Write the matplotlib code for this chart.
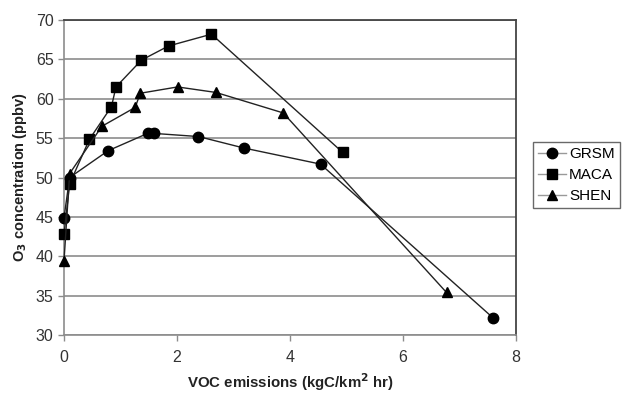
import matplotlib
matplotlib.use("Agg")
import matplotlib.pyplot as plt

plt.rcParams['font.family'] = ['Liberation Sans', 'DejaVu Sans']

# VOC emissions (kgC/km^2 hr) and O3 concentration (ppbv) per site
grsm_x = [0.0, 0.1, 0.78, 1.48, 1.59, 2.38, 3.18, 4.54, 7.59]
grsm_y = [44.9, 50.0, 53.4, 55.6, 55.6, 55.2, 53.75, 51.7, 32.2]

maca_x = [0.0, 0.1, 0.45, 0.84, 0.92, 1.37, 1.85, 2.61, 4.93]
maca_y = [42.8, 49.2, 54.85, 59.0, 61.5, 64.9, 66.7, 68.2, 53.2]

shen_x = [0.0, 0.1, 0.67, 1.26, 1.35, 2.01, 2.69, 3.88, 6.77]
shen_y = [39.4, 50.5, 56.5, 58.9, 60.7, 61.5, 60.8, 58.2, 35.4]

series_names = ["GRSM", "MACA", "SHEN"]
x_ticks = [0, 2, 4, 6, 8]
y_ticks = [30, 35, 40, 45, 50, 55, 60, 65, 70]

fig = plt.figure(figsize=(6.22, 3.95), dpi=100)
ax = fig.add_axes([64/622, 1-335/395, (516-64)/622, (335-20)/395])

ax.set_xlim(0, 8)
ax.set_ylim(30, 70)
ax.set_xticks(x_ticks)
ax.set_yticks(y_ticks)
ax.yaxis.grid(True, color='#8c8c8c', linewidth=1.2)
ax.set_axisbelow(True)

line_kw = dict(color='#222222', linewidth=1.0, markerfacecolor='black',
               markeredgecolor='black', clip_on=False, zorder=3)
ax.plot(grsm_x, grsm_y, marker='o', markersize=7.5, label=series_names[0], **line_kw)
ax.plot(maca_x, maca_y, marker='s', markersize=7, label=series_names[1], **line_kw)
ax.plot(shen_x, shen_y, marker='^', markersize=7.5, label=series_names[2], **line_kw)

for side in ['top', 'right']:
    ax.spines[side].set_color('#444444')
    ax.spines[side].set_linewidth(1.3)
for side in ['left', 'bottom']:
    ax.spines[side].set_color('#8c8c8c')
    ax.spines[side].set_linewidth(1.2)

ax.tick_params(axis='both', labelsize=11.5, colors='#8c8c8c', labelcolor='#333333',
               length=4, width=1)
ax.tick_params(axis='x', pad=7)

ax.set_xlabel("VOC emissions (kgC/km$^\\mathbf{2}$ hr)", fontsize=10.8,
              fontweight='bold', color='#222222', labelpad=4)
ax.set_ylabel("O$_\\mathbf{3}$ concentration (ppbv)", fontsize=10.5,
              fontweight='bold', color='#222222', labelpad=5)

leg = fig.legend(loc='upper left', bbox_to_anchor=(533/622, 1-142/395),
                 fontsize=11, frameon=True, fancybox=False, handlelength=1.8,
                 borderpad=0.35, labelspacing=0.45, handletextpad=0.2,
                 borderaxespad=0)
leg.get_frame().set_edgecolor('#444444')
leg.get_frame().set_linewidth(1.0)
for h in leg.get_lines():
    h.set_color('#999999')
    h.set_markerfacecolor('black')
    h.set_markeredgecolor('black')

fig.savefig("out.png", dpi=100)
